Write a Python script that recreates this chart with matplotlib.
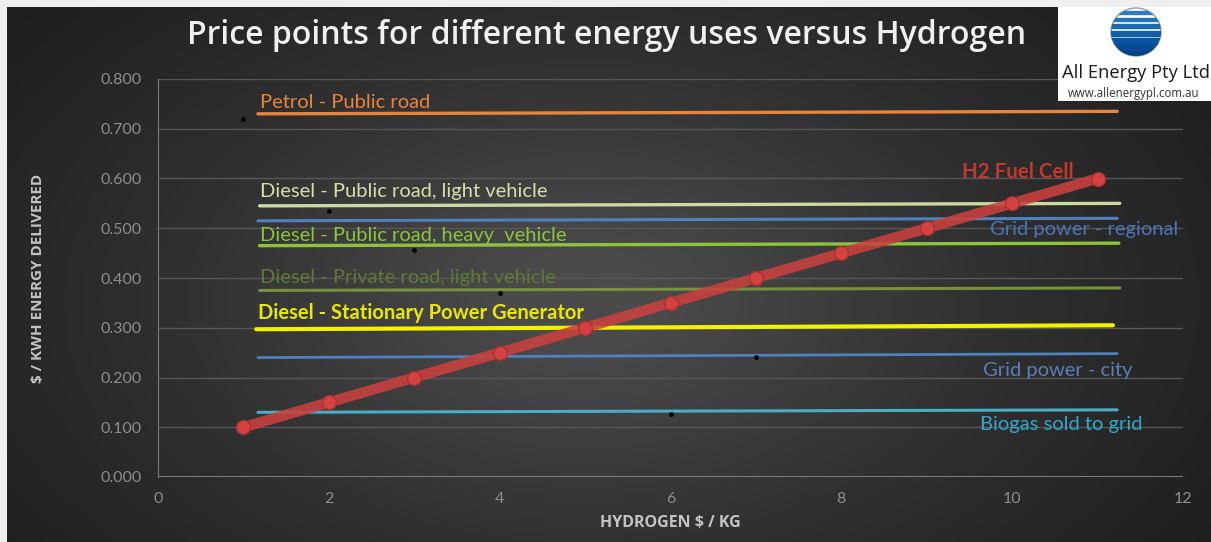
import numpy as np
import matplotlib.pyplot as plt
from matplotlib.patches import Ellipse, Rectangle
from matplotlib.colors import LinearSegmentedColormap

plt.rcParams['font.family'] = ['Lato', 'DejaVu Sans']

# H2 fuel cell: cost of energy delivered vs hydrogen price
h2_price = [1, 2, 3, 4, 5, 6, 7, 8, 9, 10, 11]
h2_cost = [0.10, 0.15, 0.20, 0.25, 0.30, 0.35, 0.40, 0.45, 0.50, 0.55, 0.60]

# other energy uses, drawn as near-flat lines (value at left end, right end)
uses = ["Petrol - Public road",
        "Diesel - Public road, light vehicle",
        "Grid power - regional",
        "Diesel - Public road, heavy  vehicle",
        "Diesel - Private road, light vehicle",
        "Diesel - Stationary Power Generator",
        "Grid power - city",
        "Biogas sold to grid"]
use_x0 = [1.17, 1.19, 1.17, 1.19, 1.19, 1.15, 1.17, 1.17]
use_x1 = [11.23, 11.26, 11.23, 11.25, 11.26, 11.18, 11.23, 11.23]
use_y0 = [0.730, 0.545, 0.515, 0.465, 0.375, 0.297, 0.240, 0.130]
use_y1 = [0.735, 0.550, 0.520, 0.470, 0.380, 0.305, 0.248, 0.135]

# stray black markers
dot_x = [1, 2, 3, 4, 6, 7]
dot_y = [0.720, 0.535, 0.456, 0.370, 0.127, 0.241]

line_colors = ['#e8843c', '#c6dca0', '#4f81bd', '#8cc43c', '#76923c',
               '#f2f200', '#4f81bd', '#4bacc6']
line_widths = [2.4, 2.4, 2.2, 2.4, 2.2, 3.0, 2.0, 2.2]
text_colors = ['#e8843c', '#cfe3a8', '#4a76b4', '#8cc43c', '#5f7a34',
               '#e8e800', '#5a80b8', '#2ea9cc']
text_pos = [(1.19, 0.752), (1.19, 0.573), (9.74, 0.498), (1.19, 0.486),
            (1.19, 0.400), (1.17, 0.329), (9.66, 0.215), (9.62, 0.105)]
text_bold = [False, False, False, False, False, True, False, False]

fig = plt.figure(figsize=(12.11, 5.42), dpi=100)
fig.patch.set_facecolor('#efefef')

# dark radial background
bg = fig.add_axes([7 / 1211, 0, 1 - 7 / 1211, 1 - 7 / 542], zorder=0)
gx, gy = np.meshgrid(np.linspace(0, 1, 400), np.linspace(0, 1, 200))
r = np.sqrt(((gx - 0.48) / 0.62) ** 2 + ((gy - 0.55) / 0.85) ** 2)
shade = np.clip(1 - r, 0, 1)
cmap = LinearSegmentedColormap.from_list('bg', ['#1e1e1e', '#303030', '#4a4a4a'])
bg.imshow(shade, cmap=cmap, aspect='auto', extent=[0, 1, 0, 1], vmin=0, vmax=0.9)
bg.axis('off')

ax = fig.add_axes([158 / 1211, 1 - 477 / 542, (1183 - 158) / 1211, (477 - 79) / 542], zorder=2)
ax.set_facecolor('none')
ax.set_xlim(0, 12)
ax.set_ylim(0, 0.8)
ax.set_xticks(range(0, 13, 2))
ax.set_yticks(np.arange(0, 0.81, 0.1))
ax.set_yticklabels([f"{v:.3f}" for v in np.arange(0, 0.81, 0.1)])
ax.tick_params(length=0, colors='#8e8e8e', labelsize=11.5)
ax.tick_params(axis='y', pad=12)
ax.tick_params(axis='x', pad=11)
for s in ['top', 'right', 'bottom']:
    ax.spines[s].set_visible(False)
ax.spines['left'].set_color('#7a7a7a')
ax.yaxis.grid(True, color='#575757', lw=1)
ax.axhline(0, color='#8a8a8a', lw=1.2, zorder=1)
ax.set_axisbelow(True)

for i, name in enumerate(uses):
    ax.plot([use_x0[i], use_x1[i]], [use_y0[i], use_y1[i]], color=line_colors[i],
            lw=line_widths[i], solid_capstyle='round', zorder=3)
    tx, ty = text_pos[i]
    ax.text(tx, ty, name, color=text_colors[i], fontsize=14.5,
            fontweight='bold' if text_bold[i] else 'normal', va='center', ha='left', zorder=4)

ax.scatter(dot_x, dot_y, s=6, color='black', zorder=4)

ax.plot(h2_price, h2_cost, color='#c9413e', lw=7.5, alpha=0.88, solid_capstyle='round', zorder=5)
ax.plot(h2_price, h2_cost, ls='none', marker='o', ms=10, mfc='#d4423f', mec='#a83230', mew=1, zorder=6)
ax.text(9.41, 0.613, "H2 Fuel Cell", color='#c0392b', fontsize=14.8, fontweight='bold',
        va='center', ha='left', zorder=6)

ax.set_xlabel("HYDROGEN $ / KG", color='#c4c4c4', fontsize=11.5, fontweight='bold', labelpad=6,
              family=['Open Sans', 'DejaVu Sans'])
ax.set_ylabel("$ / KWH ENERGY DELIVERED", color='#c4c4c4', fontsize=11, fontweight='bold', labelpad=40,
              family=['Open Sans', 'DejaVu Sans'])

fig.text(607 / 1211, 1 - 35 / 542, "Price points for different energy uses versus Hydrogen",
         color='#f0f0f0', fontsize=23, fontweight='semibold', ha='center', va='center',
         family=['Open Sans', 'DejaVu Sans'])

# company logo box
logo = fig.add_axes([1058 / 1211, 1 - 101 / 542, 153 / 1211, 94 / 542], zorder=5)
logo.set_xlim(0, 153)
logo.set_ylim(94, 0)
logo.axis('off')
logo.add_patch(Rectangle((0, 0), 153, 94, color='white'))
globe = Ellipse((78, 25), 50, 48, facecolor='white', edgecolor='#8aa0b8', lw=1.0)
logo.add_patch(globe)
for k, yy in enumerate(np.linspace(4, 44, 7)):
    band = Rectangle((50, yy), 56, 3.0 + k * 0.5, color=plt.cm.Blues(0.7 + k * 0.04))
    band.set_clip_path(globe)
    logo.add_patch(band)
logo.text(4, 66, "All Energy Pty Ltd", color='#1a1a1a', fontsize=13.2, va='center', ha='left',
          clip_on=False, family=['Open Sans', 'DejaVu Sans'])
logo.text(10, 87, "www.allenergypl.com.au", color='#333333', fontsize=8.3, va='center', ha='left',
          clip_on=False, family=['Open Sans', 'DejaVu Sans'])

fig.savefig('out.png', dpi=100, facecolor=fig.get_facecolor())
